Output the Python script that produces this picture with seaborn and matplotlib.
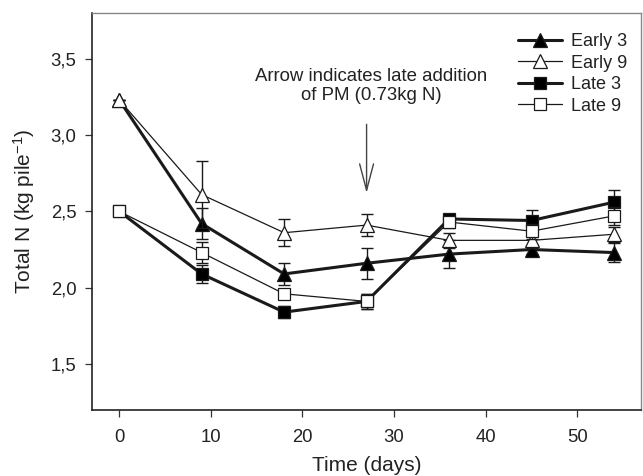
import matplotlib
matplotlib.use("Agg")
import matplotlib.pyplot as plt
import seaborn as sns
import numpy as np
import pandas as pd
from matplotlib.ticker import FuncFormatter

days = [0, 9, 18, 27, 36, 45, 54]
early3 = [3.23, 2.42, 2.09, 2.16, 2.22, 2.25, 2.23]
early9 = [3.23, 2.61, 2.36, 2.41, 2.31, 2.31, 2.35]
late3 = [2.50, 2.09, 1.84, 1.91, 2.45, 2.44, 2.56]
late9 = [2.50, 2.23, 1.96, 1.91, 2.43, 2.37, 2.47]

early3_err = [0.0, 0.10, 0.07, 0.10, 0.09, 0.03, 0.06]
early9_err = [0.0, 0.22, 0.09, 0.07, 0.05, 0.05, 0.05]
late3_err = [0.0, 0.06, 0.04, 0.05, 0.03, 0.07, 0.08]
late9_err = [0.0, 0.07, 0.03, 0.05, 0.04, 0.05, 0.06]

series_names = ["Early 3", "Early 9", "Late 3", "Late 9"]
yticks = [1.5, 2.0, 2.5, 3.0, 3.5]
xticks = [0, 10, 20, 30, 40, 50]

sns.set_style("ticks")
plt.rcParams["font.family"] = ["Liberation Sans", "DejaVu Sans"]
plt.rcParams["mathtext.fontset"] = "custom"
plt.rcParams["mathtext.rm"] = "Liberation Sans"
plt.rcParams["mathtext.it"] = "Liberation Sans"
plt.rcParams["mathtext.default"] = "rm"

fig = plt.figure(figsize=(6.43, 4.76), dpi=100)
ax = fig.add_axes([0.1426, 0.139, 0.855, 0.834])

styles = {
    "Early 3": dict(marker="^", mfc="black", lw=2.2, ms=9.5),
    "Early 9": dict(marker="^", mfc="white", lw=0.9, ms=9.5),
    "Late 3": dict(marker="s", mfc="black", lw=2.2, ms=8),
    "Late 9": dict(marker="s", mfc="white", lw=0.9, ms=8),
}
values = {"Early 3": early3, "Early 9": early9, "Late 3": late3, "Late 9": late9}
errs = {"Early 3": early3_err, "Early 9": early9_err, "Late 3": late3_err, "Late 9": late9_err}

for i, name in enumerate(series_names):
    st = styles[name]
    df = pd.DataFrame({"day": days, "N": values[name]})
    ax.errorbar(days, values[name], yerr=errs[name], fmt="none", ecolor="#1a1a1a",
                elinewidth=1.0, capsize=4.3, capthick=1.0, zorder=2 + i)
    sns.lineplot(data=df, x="day", y="N", ax=ax, color="#1a1a1a", lw=st["lw"],
                 marker=st["marker"], markersize=st["ms"], markerfacecolor=st["mfc"],
                 markeredgecolor="#1a1a1a", markeredgewidth=0.9, label=name,
                 zorder=2 + i)

ax.set_xlim(-3, 57)
ax.set_ylim(1.2, 3.8)
ax.set_xticks(xticks)
ax.set_yticks(yticks)
ax.yaxis.set_major_formatter(FuncFormatter(lambda v, p: f"{v:.1f}".replace(".", ",")))
ax.tick_params(axis="both", direction="out", length=5, width=0.9, labelsize=13.3,
               colors="#333333", labelcolor="#222222", pad=6)
ax.tick_params(axis="x", pad=9)
ax.set_xlabel("Time (days)", fontsize=15, color="#222222", labelpad=7)
ax.set_ylabel("Total N (kg pile$^{-1}$)", fontsize=15, color="#222222", labelpad=9.5)

for s in ["left", "bottom"]:
    ax.spines[s].set_color("#222222")
    ax.spines[s].set_linewidth(1.2)
for s in ["top", "right"]:
    ax.spines[s].set_visible(True)
    ax.spines[s].set_color("#888888")
    ax.spines[s].set_linewidth(1.0)

ax.annotate("", xy=(27, 2.62), xytext=(27, 3.07),
            arrowprops=dict(arrowstyle="->, head_length=1.9, head_width=0.5",
                            color="#444444", lw=1.0, mutation_scale=10,
                            shrinkA=0, shrinkB=0))
ax.text(27.5, 3.32, "Arrow indicates late addition\nof PM (0.73kg N)",
        ha="center", va="center", fontsize=13.4, color="#222222", linespacing=1.2)

leg = ax.legend(loc="upper right", bbox_to_anchor=(1.0, 0.985), frameon=False,
                fontsize=13, handlelength=2.4, handletextpad=0.5,
                labelspacing=0.25, borderaxespad=0.4)
for t in leg.get_texts():
    t.set_color("#222222")

fig.savefig("out.png", dpi=100)
